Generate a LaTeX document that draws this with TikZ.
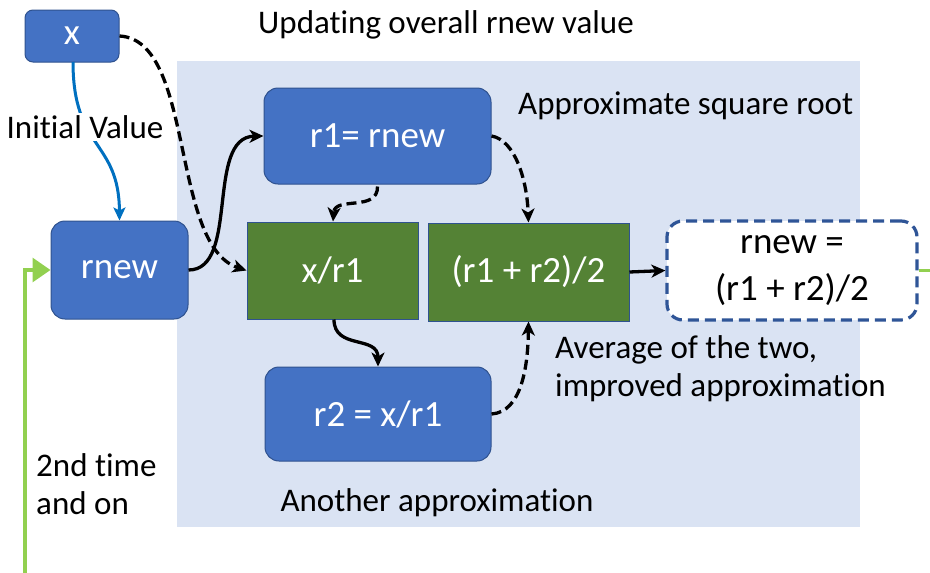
\documentclass[tikz,border=0pt]{standalone}
\usepackage{fontspec}
\setmainfont{Carlito}[Ligatures=NoCommon]
\usetikzlibrary{arrows.meta}
\definecolor{boxblue}{HTML}{4472C4}
\definecolor{boxedge}{HTML}{2F528F}
\definecolor{calcgreen}{HTML}{548235}
\definecolor{panel}{HTML}{DAE3F3}
\definecolor{initblue}{HTML}{0070C0}
\definecolor{loopgreen}{HTML}{92D050}
\definecolor{resedge}{HTML}{2F5597}
\tikzset{
  x=1pt, y=-1pt,
  every node/.style={font=\fontsize{33}{39}\selectfont, inner sep=0pt},
  boxtext/.style={font=\fontsize{37}{47}\selectfont},
  bluebox/.style={boxtext, draw=boxedge, line width=1pt, fill=boxblue, text=white, rounded corners=#1},
  bluebox/.default=14pt,
  greenbox/.style={boxtext, draw=boxedge, line width=1pt, fill=calcgreen, text=white},
  flow/.style={line width=3.3pt, -{Stealth[length=14pt,width=13pt,inset=4pt]}},
  dflow/.style={flow, dash pattern=on 10pt off 5pt},
  note/.style={align=left, anchor=west}
}
\begin{document}
\begin{tikzpicture}
\useasboundingbox (0,0) rectangle (930,573);
% shaded panel of the iteration
\fill[panel] (177,61) rectangle (860,527);

% boxes
\node[bluebox=8pt, minimum width=94pt, minimum height=52pt] (x) at (72,36) {x};
\node[bluebox, minimum width=137pt, minimum height=98pt] (rnew) at (119.5,270) {rnew};
\node[bluebox, minimum width=227pt, minimum height=96pt] (r1) at (377.5,136) {r1= rnew};
\node[greenbox, minimum width=171pt, minimum height=97pt] (div) at (332.5,270.5) {x/r1};
\node[greenbox, minimum width=201pt, minimum height=98pt] (avg) at (528.5,272) {(r1 + r2)/2};
\node[bluebox, minimum width=226pt, minimum height=94pt] (r2) at (378,414) {r2 = x/r1};
\node[boxtext, draw=resedge, line width=3.2pt, dash pattern=on 11pt off 6pt, fill=white,
      rounded corners=16pt, minimum width=250pt, minimum height=99pt, align=center]
      (res) at (792,270.5) {rnew =\\(r1 + r2)/2};

% captions
\node (t1) at (446,25) {Updating overall rnew value};
\node[note] (t2) at (518,106) {Approximate square root};
\node[note] (t3) at (555,369) {Average of the two,\\[-1pt]improved approximation};
\node (t4) at (437,503) {Another approximation};
\node[note] (t5) at (36,484) {2nd time\\[-1pt]and on};

% initial value feed
\coordinate (xb) at (73,62);
\draw[line width=3pt, initblue, -{Stealth[length=13pt,width=12pt,inset=3pt]}]
  (xb) .. controls (73,150) and (119,140) .. (rnew.north);
\node[fill=white, inner sep=2pt] (iv) at (85,127) {Initial Value};

% loop back from the previous result
\coordinate (lb) at (25,573);
\coordinate (lc) at (25,270);
\draw[line width=3.3pt, loopgreen, -{Triangle[length=18pt,width=24pt]}]
  (lb) -- (lc) -- (rnew.west);
\coordinate (lo) at (930,270.5);
\draw[line width=3.3pt, loopgreen] (res.east) -- (lo);

% data flow
\draw[dflow] (x.east) .. controls (195,40) and (170,245) .. (div.west);
\draw[flow] (rnew.east) .. controls (240,270) and (205,137) .. (r1.west);
\draw[dflow] (r1.south) ++(0,2) .. controls (378,212) and (335,196) .. ([xshift=0.5pt]div.north);
\draw[dflow] (r1.east) .. controls (515,140) and (527,180) .. (avg.north);
\draw[flow] ([xshift=1.5pt]div.south) .. controls (334,350) and (378,335) .. (r2.north);
\draw[dflow] (r2.east) .. controls (522,412) and (528,365) .. (avg.south);
\draw[flow] (avg.east) -- (res.west);
\end{tikzpicture}
\end{document}
